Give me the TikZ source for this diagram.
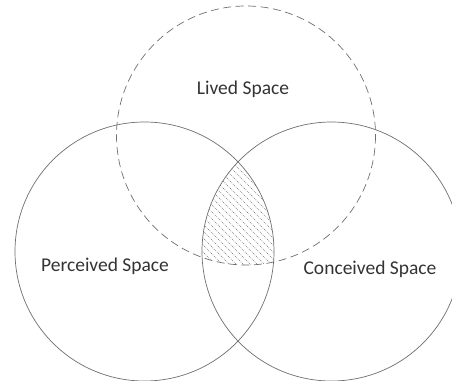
\documentclass[tikz,border=0pt]{standalone}
\usepackage{fontspec}
\setmainfont{Carlito}
\definecolor{linegray}{RGB}{110,110,110}
\begin{document}
\begin{tikzpicture}[x=1pt,y=-1pt,
  circ/.style={draw=linegray, line width=0.7pt},
  dashcirc/.style={circ, dash pattern=on 8pt off 4.5pt},
  hatchline/.style={draw=linegray, line width=0.6pt, dash pattern=on 0.8pt off 1.2pt},
  lbl/.style={font=\fontsize{19.5}{22}\selectfont, text=black!80, inner sep=0pt}]
\useasboundingbox (0,0) rectangle (452,380);
\coordinate (L) at (246,135.5);
\coordinate (P) at (144.5,251.5);
\coordinate (C) at (331.5,251.5);
\def\R{129.5}
\begin{scope}
  \clip (L) circle[radius=\R];
  \clip (P) circle[radius=\R];
  \clip (C) circle[radius=\R];
  \foreach \a in {80,87,...,275}
    \draw[hatchline] (\a,150) -- (\a+150,300);
\end{scope}
\draw[dashcirc] (L) circle[radius=\R];
\draw[circ] (P) circle[radius=\R];
\draw[circ] (C) circle[radius=\R];
\node[lbl] (lived) at (243,89) {Lived Space};
\node[lbl] (perc) at (105,266) {Perceived Space};
\node[lbl] (conc) at (370,269) {Conceived Space};
\end{tikzpicture}
\end{document}
